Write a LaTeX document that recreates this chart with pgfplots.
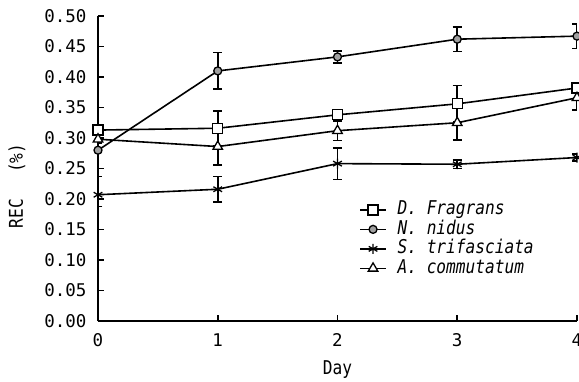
\documentclass[border=0pt]{standalone}
\usepackage{fontspec}
\setmainfont{DejaVu Sans Mono}
\newfontfamily\narrowfont{DejaVu Sans Mono}[FakeStretch=0.85]
\usepackage{pgfplots}
\pgfplotsset{compat=1.18}
\definecolor{markgray}{RGB}{160,160,160}
\begin{document}
\begin{tikzpicture}
\begin{axis}[
  anchor=origin, at={(0pt,0pt)},
  scale only axis, width=479pt, height=305pt,
  xmin=0, xmax=4, ymin=0, ymax=0.5,
  axis x line*=bottom, axis y line*=left,
  axis line style={line width=1.6pt},
  xtick={0,1,2,3,4}, xticklabels={0,1,2,3,4},
  ytick={0,0.05,0.1,0.15,0.2,0.25,0.3,0.35,0.4,0.45,0.5},
  yticklabels={0.00,0.05,0.10,0.15,0.20,0.25,0.30,0.35,0.40,0.45,0.50},
  tick align=inside, major tick length=6pt,
  tick style={line width=1.6pt, black},
  ticklabel style={font=\fontsize{17.5}{18}\selectfont},
  yticklabel style={xshift=-8pt},
  xticklabel style={yshift=-9pt},
  xlabel={Day}, ylabel={REC\hspace{26pt}(\%)},
  label style={font=\narrowfont\fontsize{19}{19}\selectfont},
  xlabel style={at={(axis description cs:0.5,-0.16)}, anchor=center},
  ylabel style={at={(axis description cs:-0.169,0.443)}, anchor=center},
  legend style={at={(axis description cs:0.545,0.397)}, anchor=north west,
    draw=none, fill=none, inner sep=0pt, row sep=0pt,
    font=\narrowfont\fontsize{19}{19}\selectfont\itshape,
    nodes={inner sep=0.75pt, text height=14pt, text depth=4pt},
    /tikz/every odd column/.append style={column sep=10pt}},
  legend cell align=left,
  legend image code/.code={\draw[mark repeat=2,mark phase=2,#1] plot coordinates {(0pt,0pt) (13pt,0pt) (26pt,0pt)};},
  error bars/error bar style={line width=1.6pt},
  error bars/error mark options={rotate=90, mark size=4.5pt, line width=1.6pt},
]
\addplot[black, line width=1.6pt, mark=square*, mark size=5pt, mark options={fill=white, line width=1.3pt, solid},
  error bars/.cd, y dir=both, y explicit]
  coordinates {(0,0.313) +- (0,0.004) (1,0.316) +- (0,0.028) (2,0.338) +- (0,0.008) (3,0.356) +- (0,0.030) (4,0.382) +- (0,0.007)};
\addlegendentry{D. Fragrans}
\addplot[black, line width=1.6pt, mark=*, mark size=4pt, mark options={fill=markgray, line width=1.3pt, solid},
  error bars/.cd, y dir=both, y explicit]
  coordinates {(0,0.280) +- (0,0.004) (1,0.410) +- (0,0.030) (2,0.433) +- (0,0.010) (3,0.462) +- (0,0.020) (4,0.467) +- (0,0.020)};
\addlegendentry{N. nidus}
\addplot[black, line width=1.6pt, mark=asterisk, mark size=5pt, mark options={line width=1.3pt, solid},
  error bars/.cd, y dir=both, y explicit]
  coordinates {(0,0.207) += (0,0.030) -= (0,0.019) (1,0.216) +- (0,0.021) (2,0.258) +- (0,0.026) (3,0.257) +- (0,0.007) (4,0.268) +- (0,0.006)};
\addlegendentry{S. trifasciata}
\addplot[black, line width=1.6pt, mark=triangle*, mark size=5.5pt, mark options={fill=white, line width=1.3pt, solid},
  error bars/.cd, y dir=both, y explicit]
  coordinates {(0,0.298) +- (0,0.006) (1,0.286) +- (0,0.030) (2,0.312) +- (0,0.016) (3,0.325) +- (0,0.028) (4,0.366) +- (0,0.020)};
\addlegendentry{A. commutatum}
\end{axis}
\pgfresetboundingbox
\useasboundingbox (-98pt,-60pt) rectangle (481pt,321pt);
\end{tikzpicture}
\end{document}
